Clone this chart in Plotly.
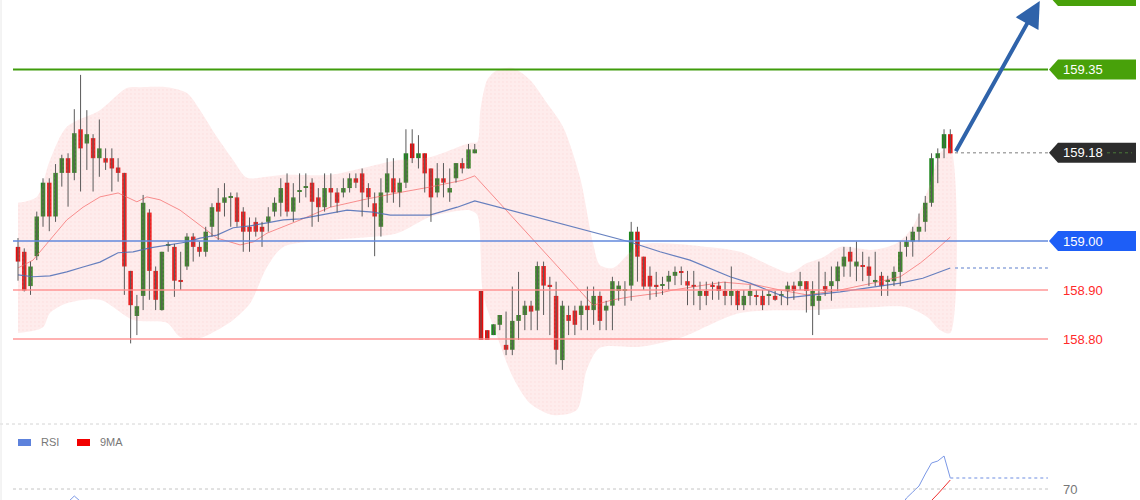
import plotly.graph_objects as go

# ---------------- data ----------------
opens = [158.988, 158.978, 158.908, 158.969, 159.050, 159.119, 159.050, 159.139, 159.169, 159.139,
         159.228, 159.199, 159.210, 159.169, 159.169, 159.169, 159.150, 159.139, 158.939, 158.847,
         158.888, 159.058, 158.939, 158.859, 158.990, 158.988, 158.920, 158.948, 159.009, 158.988,
         158.978, 159.029, 159.078, 159.078, 159.089, 159.089, 159.060, 159.029, 159.039, 159.029,
         159.039, 159.060, 159.078, 159.119, 159.060, 159.100, 159.109, 159.119, 159.089, 159.069,
         159.108, 159.099, 159.099, 159.108, 159.128, 159.138, 159.108, 159.077, 159.029, 159.099,
         159.128, 159.099, 159.119, 159.199, 159.169, 159.179, 159.148, 159.099, 159.128, 159.099,
         159.128, 159.159, 159.148, 159.179,
         158.898, 158.818, 158.808, 158.829, 158.788, 158.778,
         158.837, 158.849, 158.868, 158.858, 158.949, 158.909, 158.888, 158.757, 158.849, 158.858,
         158.849, 158.868, 158.859, 158.888, 158.858, 158.868, 158.898, 158.898, 158.909, 159.019,
         158.968, 158.929, 158.909, 158.909, 158.917, 158.929, 158.937, 158.918, 158.909, 158.888,
         158.898, 158.909, 158.909, 158.898, 158.888, 158.898, 158.869, 158.888, 158.888, 158.888,
         158.888, 158.888, 158.888, 158.898, 158.909, 158.908, 158.918, 158.867, 158.878, 158.908,
         158.908, 158.918, 158.948, 158.978, 158.948, 158.948, 158.948, 158.918, 158.929, 158.918,
         158.918, 158.937, 158.988, 158.999, 159.019, 159.039, 159.078, 159.169, 159.189, 159.218]
highs = [159.006, 158.985, 158.958, 159.060, 159.128, 159.128, 159.157, 159.176, 159.179, 159.269,
         159.339, 159.267, 159.218, 159.248, 159.189, 159.189, 159.169, 159.139, 158.939, 158.890,
         159.094, 159.065, 158.948, 158.978, 158.999, 158.994, 158.978, 159.016, 159.016, 158.999,
         159.029, 159.077, 159.108, 159.118, 159.099, 159.099, 159.069, 159.048, 159.048, 159.039,
         159.069, 159.089, 159.128, 159.138, 159.118, 159.138, 159.138, 159.128, 159.108, 159.138,
         159.138, 159.108, 159.128, 159.138, 159.138, 159.148, 159.118, 159.099, 159.128, 159.169,
         159.169, 159.128, 159.228, 159.228, 159.216, 159.179, 159.148, 159.159, 159.159, 159.148,
         159.159, 159.169, 159.198, 159.198,
         158.898, 158.818, 158.830, 158.849, 158.856, 158.907,
         158.937, 158.878, 158.878, 158.958, 158.958, 158.927, 158.917, 158.878, 158.868, 158.868,
         158.878, 158.907, 158.907, 158.897, 158.878, 158.927, 158.918, 158.918, 159.039, 159.029,
         158.968, 158.948, 158.937, 158.927, 158.939, 158.948, 158.948, 158.939, 158.939, 158.917,
         158.917, 158.917, 158.917, 158.917, 158.948, 158.900, 158.900, 158.910, 158.900, 158.900,
         158.900, 158.898, 158.898, 158.917, 158.917, 158.937, 158.918, 158.918, 158.958, 158.937,
         158.948, 158.958, 158.988, 158.988, 158.999, 158.978, 158.968, 158.978, 158.937, 158.929,
         158.948, 158.999, 159.009, 159.029, 159.056, 159.092, 159.179, 159.189, 159.228, 159.228]
lows = [158.919, 158.897, 158.890, 158.961, 159.029, 159.020, 159.039, 159.111, 159.070, 159.124,
        159.101, 159.145, 159.101, 159.131, 159.145, 159.101, 159.121, 158.890, 158.791, 158.808,
        158.859, 158.880, 158.859, 158.858, 158.978, 158.886, 158.900, 158.941, 158.958, 158.968,
        158.968, 159.009, 159.002, 159.050, 159.029, 159.029, 158.978, 158.978, 159.009, 158.988,
        159.019, 159.050, 159.050, 159.050, 159.039, 159.078, 159.089, 159.029, 159.039, 159.060,
        159.069, 159.058, 159.089, 159.099, 159.108, 159.050, 159.069, 158.969, 159.009, 159.078,
        159.078, 159.069, 159.108, 159.159, 159.148, 159.099, 159.039, 159.089, 159.089, 159.080,
        159.119, 159.138, 159.148, 159.179,
        158.798, 158.798, 158.808, 158.818, 158.767, 158.767,
        158.798, 158.818, 158.818, 158.818, 158.849, 158.808, 158.748, 158.737, 158.808, 158.808,
        158.818, 158.818, 158.829, 158.818, 158.818, 158.818, 158.878, 158.868, 158.878, 158.917,
        158.900, 158.880, 158.886, 158.890, 158.900, 158.910, 158.910, 158.869, 158.869, 158.859,
        158.869, 158.880, 158.880, 158.869, 158.869, 158.859, 158.859, 158.869, 158.869, 158.859,
        158.869, 158.878, 158.869, 158.869, 158.880, 158.900, 158.854, 158.808, 158.849, 158.888,
        158.878, 158.898, 158.927, 158.927, 158.918, 158.918, 158.908, 158.908, 158.888, 158.888,
        158.908, 158.908, 158.968, 158.968, 158.999, 159.019, 159.070, 159.118, 159.169, 159.179]
closes = [158.958, 158.899, 158.948, 159.050, 159.119, 159.050, 159.139, 159.169, 159.139, 159.220,
          159.189, 159.218, 159.169, 159.189, 159.160, 159.148, 159.139, 158.948, 158.869, 158.867,
          159.078, 158.939, 158.880, 158.978, 158.992, 158.919, 158.918, 159.009, 158.988, 158.978,
          159.019, 159.069, 159.060, 159.089, 159.090, 159.039, 159.019, 159.019, 159.019, 159.019,
          159.050, 159.078, 159.108, 159.060, 159.089, 159.101, 159.110, 159.080, 159.069, 159.108,
          159.099, 159.078, 159.108, 159.128, 159.119, 159.099, 159.089, 159.050, 159.099, 159.138,
          159.099, 159.119, 159.179, 159.169, 159.179, 159.138, 159.089, 159.128, 159.119, 159.108,
          159.159, 159.148, 159.187, 159.187,
          158.798, 158.798, 158.830, 158.849, 158.778, 158.837,
          158.849, 158.868, 158.856, 158.949, 158.909, 158.908, 158.778, 158.868, 158.837, 158.829,
          158.868, 158.859, 158.888, 158.837, 158.868, 158.918, 158.909, 158.899, 159.019, 158.968,
          158.907, 158.907, 158.908, 158.910, 158.929, 158.937, 158.936, 158.909, 158.908, 158.898,
          158.888, 158.908, 158.898, 158.888, 158.898, 158.869, 158.888, 158.898, 158.887, 158.869,
          158.889, 158.880, 158.889, 158.909, 158.898, 158.918, 158.898, 158.898, 158.888, 158.898,
          158.918, 158.948, 158.968, 158.958, 158.958, 158.947, 158.929, 158.919, 158.908, 158.919,
          158.937, 158.978, 158.999, 159.019, 159.029, 159.078, 159.169, 159.179, 159.218, 159.179]

band_up_x = [0, 3.0, 5.1, 7.8, 13.1, 17.4, 19.5, 23.8, 27.0, 29.1, 31.8, 34.4, 36.6, 39.8, 42.4,
             49.9, 55.1, 60.6, 65.8, 72.2, 73.4, 73.9, 75.0, 76.6, 79.1, 81.8, 84.5, 87.1, 89.8, 91.9,
             93.0, 95.1, 99.4, 110.1, 115.4, 120.7, 123.4, 126.1, 128.7, 131.4, 136.6, 140.5, 143.0,
             145.8, 147.4, 149]
band_up = [159.078, 159.090, 159.165, 159.233, 159.267, 159.312, 159.314, 159.314, 159.302, 159.267,
           159.212, 159.165, 159.129, 159.131, 159.135, 159.135, 159.149, 159.165, 159.171, 159.200,
           159.202, 159.267, 159.329, 159.349, 159.353, 159.329, 159.282, 159.233, 159.131, 158.996,
           158.951, 158.945, 158.992, 158.988, 158.978, 158.947, 158.935, 158.955, 158.967, 158.988,
           158.982, 158.996, 159.029, 159.118, 159.180, 159.190]
band_lo_x = [0, 4.0, 5.1, 7.8, 13.1, 18.4, 23.8, 25.9, 29.1, 31.8, 34.4, 37.1, 39.8, 42.4, 49.9,
             60.6, 65.8, 72.2, 73.4, 74.3, 76.6, 79.1, 81.8, 85.5, 89.3, 90.9, 93.0, 99.4, 105.8,
             115.4, 126.1, 136.6, 142.1, 145.3, 147.4, 149]
band_lo = [158.812, 158.824, 158.853, 158.873, 158.880, 158.839, 158.833, 158.804, 158.802, 158.818,
           158.839, 158.873, 158.947, 158.988, 159.002, 159.016, 159.049, 159.063, 159.053, 158.894,
           158.804, 158.722, 158.669, 158.645, 158.655, 158.737, 158.782, 158.784, 158.802, 158.853,
           158.859, 158.865, 158.865, 158.845, 158.818, 158.812]

red_ma_x = [0, 2.4, 5.1, 7.8, 10.4, 13.1, 16.0, 17.4, 19.0, 20.6, 22.7, 25.9, 29.1, 31.8, 35.5,
            37.6, 39.8, 42.4, 45.1, 49.9, 55.1, 60.6, 65.8, 71.1, 73, 91.9, 95.1, 97.8, 102.6, 104.7,
            112.7, 118.1, 121.8, 126.1, 131.4, 136.6, 141.0, 144.2, 146.2, 149]
red_ma = [158.945, 158.961, 159.002, 159.043, 159.069, 159.090, 159.098, 159.090, 159.080, 159.090,
          159.084, 159.063, 159.033, 159.006, 158.992, 158.998, 159.016, 159.029, 159.043, 159.069,
          159.084, 159.098, 159.110, 159.124, 159.133, 158.869, 158.880, 158.886, 158.894, 158.900,
          158.916, 158.910, 158.900, 158.890, 158.900, 158.914, 158.927, 158.955, 158.976, 159.008]
blue_ma_x = [0, 2.4, 5.1, 7.8, 10.4, 13.1, 16.0, 18.4, 21.1, 23.8, 27.0, 29.1, 31.8, 34.4, 37.1,
             39.8, 42.4, 45.1, 49.9, 52.6, 56.7, 59.5, 65.8, 70.2, 73, 97.8, 102.6, 107.4, 113.8,
             117.0, 122.9, 127.1, 131.4, 136.6, 141.0, 144.6, 149]
blue_ma = [158.931, 158.927, 158.929, 158.937, 158.947, 158.957, 158.976, 158.978, 158.986, 158.992,
           158.998, 159.006, 159.012, 159.027, 159.031, 159.037, 159.043, 159.045, 159.057, 159.063,
           159.059, 159.053, 159.053, 159.069, 159.082, 158.998, 158.978, 158.961, 158.927, 158.914,
           158.884, 158.890, 158.896, 158.906, 158.914, 158.924, 158.945]

rsi_x = [7, 8, 9, 10, 11, 141, 142, 143, 144, 145, 146, 147, 148, 149]
rsi = [61.0, 63.5, 66.5, 63.5, 61.0, 60.5, 65.5, 68.5, 71.5, 77.5, 83.0, 84.0, 86.5, 75.5]
ma9_x = [145, 146, 147, 148, 149]
ma9 = [61.0, 64.0, 67.5, 71.0, 74.5]

level_green = 159.35
level_target = 159.50
level_last = 159.18
level_blue = 159.00
level_red = [158.90, 158.80]
rsi_level = 70
arrow_from = (149.75, 159.18)
arrow_to = (163.3, 159.49)

# ---------------- figure ----------------
FONT = "Liberation Sans, Arial, sans-serif"
W, H = 1140, 500
ML, MR = 13, 92
PW = W - ML - MR


def px(xpix):
    return (xpix - ML) / PW


n = len(opens)
xs = list(range(n))
fig = go.Figure()

# Bollinger band fill
fig.add_trace(go.Scatter(
    x=band_up_x + band_lo_x[::-1], y=band_up + band_lo[::-1],
    fill="toself", fillcolor="rgba(248,140,140,0.18)",
    fillpattern=dict(shape=".", fgcolor="rgba(235,150,150,0.45)", bgcolor="rgba(248,140,140,0.17)",
                     size=4, solidity=0.1),
    line=dict(width=0, shape="spline", smoothing=0.8), mode="lines", hoverinfo="skip"))

fig.add_trace(go.Scatter(x=red_ma_x, y=red_ma, mode="lines",
                         line=dict(color="rgba(245,110,110,0.75)", width=1), hoverinfo="skip"))
fig.add_trace(go.Scatter(x=blue_ma_x, y=blue_ma, mode="lines",
                         line=dict(color="rgba(85,115,185,0.9)", width=1.2), hoverinfo="skip"))

# wicks
wx, wy = [], []
for i in range(n):
    wx += [i, i, None]
    wy += [lows[i], highs[i], None]
fig.add_trace(go.Scatter(x=wx, y=wy, mode="lines", line=dict(color="#5a5a5a", width=1),
                         hoverinfo="skip"))

# bodies
base = [min(o, c) for o, c in zip(opens, closes)]
hgt = [max(abs(c - o), 0.0025) for o, c in zip(opens, closes)]
cols = ["#1d871d" if c >= o else "#e80c0c" for o, c in zip(opens, closes)]
fig.add_trace(go.Bar(x=xs, base=base, y=hgt, width=0.72, marker=dict(color=cols, line=dict(width=0)),
                     hoverinfo="skip"))

# RSI panel
fig.add_trace(go.Scatter(x=rsi_x, y=rsi, yaxis="y2", mode="lines",
                         line=dict(color="#7b98e6", width=1), hoverinfo="skip"))
fig.add_trace(go.Scatter(x=ma9_x, y=ma9, yaxis="y2", mode="lines",
                         line=dict(color="#f03030", width=1), hoverinfo="skip"))

shapes = []
# level lines
shapes.append(dict(type="line", xref="paper", yref="y", x0=0, x1=1, y0=level_green, y1=level_green,
                   line=dict(color="#3f9c0c", width=2), layer="above"))
shapes.append(dict(type="line", xref="paper", yref="y", x0=0, x1=1, y0=level_blue, y1=level_blue,
                   line=dict(color="#6289dc", width=1.6), layer="above"))
for lv in level_red:
    shapes.append(dict(type="line", xref="paper", yref="y", x0=0, x1=1, y0=lv, y1=lv,
                       line=dict(color="rgba(255,140,140,0.9)", width=1.4), layer="above"))
shapes.append(dict(type="line", xref="x", yref="y", x0=arrow_from[0], x1=164.6, y0=level_last,
                   y1=level_last, line=dict(color="#a8a8a8", width=1.5, dash="dot"), layer="above"))
shapes.append(dict(type="line", xref="x", yref="y", x0=arrow_from[0], x1=164.6, y0=blue_ma[-1],
                   y1=blue_ma[-1], line=dict(color="#93a9dd", width=1.5, dash="dot"), layer="above"))

# tags
hh = 10 / 490.0


def tag(yc, color):
    return dict(type="path", xref="paper", yref="y", fillcolor=color, line=dict(width=0), layer="above",
                path=(f"M {px(1049)},{yc} L {px(1058)},{yc + hh} L {px(1136)},{yc + hh} "
                      f"L {px(1136)},{yc - hh} L {px(1058)},{yc - hh} Z"))


shapes.append(tag(level_target, "#48a10a"))
shapes.append(tag(level_green, "#48a10a"))
shapes.append(tag(level_last, "#2c2c2c"))
shapes.append(tag(level_blue, "#1d5ef7"))
shapes.append(dict(type="line", xref="paper", yref="y", x0=px(1107), x1=px(1132), y0=level_last,
                   y1=level_last, line=dict(color="#4a7a3a", width=1, dash="dot"), layer="above"))

# separator and borders
sep_y = (H - 424) / H
shapes.append(dict(type="line", xref="paper", yref="paper", x0=px(0), x1=px(1140), y0=sep_y, y1=sep_y,
                   line=dict(color="#d4d4d4", width=1, dash="dot")))
shapes.append(dict(type="line", xref="paper", yref="paper", x0=px(1), x1=px(1), y0=0, y1=1,
                   line=dict(color="#e8e8e8", width=1)))

# RSI 70 line and continuation
shapes.append(dict(type="line", xref="paper", yref="y2", x0=0, x1=1, y0=rsi_level, y1=rsi_level,
                   line=dict(color="#c4c4c4", width=1, dash="dot")))
shapes.append(dict(type="line", xref="x", yref="y2", x0=rsi_x[-1], x1=164.6, y0=rsi[-1], y1=rsi[-1],
                   line=dict(color="#9fb4ec", width=1.3, dash="dot")))

# RSI legend rectangles
ly0, ly1 = (H - 446) / H, (H - 439) / H
shapes.append(dict(type="rect", xref="paper", yref="paper", x0=px(18), x1=px(31), y0=ly0, y1=ly1,
                   fillcolor="#5d82dc", line=dict(width=0)))
shapes.append(dict(type="rect", xref="paper", yref="paper", x0=px(77), x1=px(90), y0=ly0, y1=ly1,
                   fillcolor="#f20000", line=dict(width=0)))

annotations = []


def label(text, yv, color, yref="y"):
    return dict(text=text, x=px(1061), xref="paper", y=yv, yref=yref, xanchor="left", yanchor="middle",
                showarrow=False, font=dict(family=FONT, size=13, color=color))


annotations.append(label(f"{level_green:.2f}", level_green, "white"))
annotations.append(label(f"{level_last:.2f}", level_last, "white"))
annotations.append(label(f"{level_blue:.2f}", level_blue, "white"))
for lv in level_red:
    annotations.append(label(f"{lv:.2f}", lv, "#ff2a2a"))
annotations.append(label(str(rsi_level), rsi_level, "#777777", yref="y2"))

legy = (H - 442) / H
annotations.append(dict(text="RSI", x=px(39), xref="paper", y=legy, yref="paper", xanchor="left",
                        yanchor="middle", showarrow=False, font=dict(family=FONT, size=11, color="#777777")))
annotations.append(dict(text="9MA", x=px(98), xref="paper", y=legy, yref="paper", xanchor="left",
                        yanchor="middle", showarrow=False, font=dict(family=FONT, size=11, color="#777777")))

# arrow
annotations.append(dict(x=arrow_to[0], y=arrow_to[1], xref="x", yref="y", ax=arrow_from[0],
                        ay=arrow_from[1], axref="x", ayref="y", text="", showarrow=True,
                        arrowhead=2, arrowsize=1.3, arrowwidth=4, arrowcolor="#2f63aa", standoff=0))

y_top = 159.0 + 241 / 490.0
y_bot = 159.0 - 183 / 490.0
fig.update_layout(
    width=W, height=H, margin=dict(l=ML, r=MR, t=0, b=0),
    paper_bgcolor="white", plot_bgcolor="white", showlegend=False, barmode="overlay",
    xaxis=dict(range=[(13 - 18) / 6.257, (1048 - 18) / 6.257], visible=False, fixedrange=True),
    yaxis=dict(domain=[sep_y, 1], range=[y_bot, y_top], visible=False, fixedrange=True),
    yaxis2=dict(domain=[0, sep_y], range=[64.5, 102.5], visible=False, fixedrange=True),
    shapes=shapes, annotations=annotations,
    font=dict(family=FONT),
)

fig.write_html("out.html", config={"displayModeBar": False},
               post_script="document.body.style.margin='0';document.body.style.overflow='hidden';")
